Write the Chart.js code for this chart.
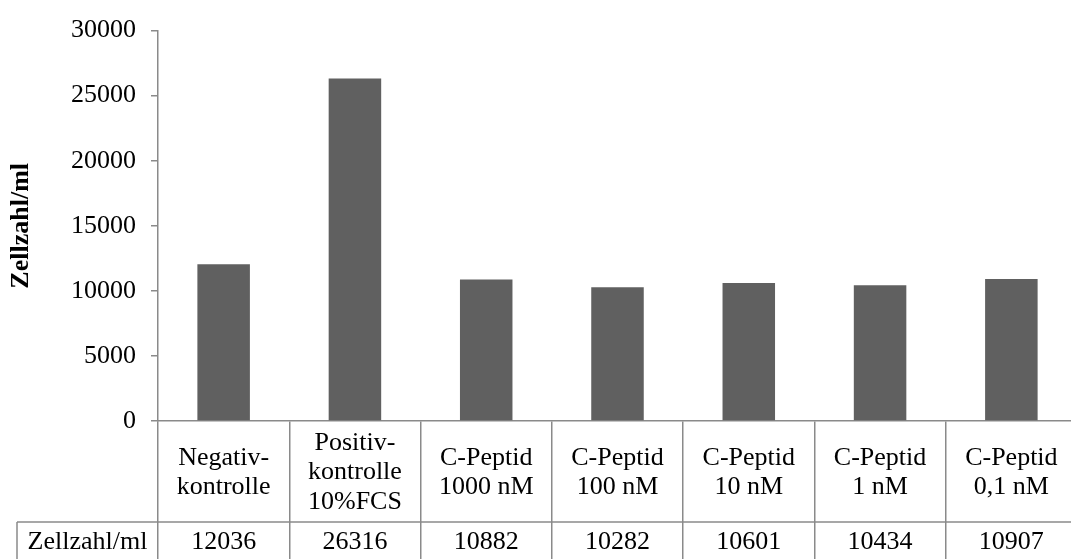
<!DOCTYPE html>
<html>
<head>
<meta charset="utf-8">
<script src="https://cdn.jsdelivr.net/npm/chart.js"></script>
<style>
  html, body { margin: 0; padding: 0; background: #ffffff; overflow: hidden; }
  #wrap { width: 1077px; height: 559px; }
</style>
</head>
<body>
<div id="wrap"><canvas id="chart" width="1077" height="559"></canvas></div>
<script>
// chart data
const categories = [
  ['Negativ-', 'kontrolle'],
  ['Positiv-', 'kontrolle', '10%FCS'],
  ['C-Peptid', '1000 nM'],
  ['C-Peptid', '100 nM'],
  ['C-Peptid', '10 nM'],
  ['C-Peptid', '1 nM'],
  ['C-Peptid', '0,1 nM']
];
const cellCounts = [12036, 26316, 10882, 10282, 10601, 10434, 10907];
const seriesName = 'Zellzahl/ml';
const yTicks = [0, 5000, 10000, 15000, 20000, 25000, 30000];

const lineColor = '#8a8a8a';
const barColor = '#606060';
const serif = "'Liberation Serif', 'Times New Roman', serif";

// draws the value row of the data table under the category labels
const dataTablePlugin = {
  id: 'dataTable',
  afterDraw(chart) {
    const { ctx } = chart;
    const xScale = chart.scales.x;
    const rowTop = 522;
    const tableLeft = 17;
    const textY = 542;

    ctx.save();
    ctx.strokeStyle = lineColor;
    ctx.lineWidth = 1.5;
    ctx.beginPath();
    ctx.moveTo(tableLeft, rowTop);
    ctx.lineTo(chart.width, rowTop);
    ctx.moveTo(tableLeft, rowTop);
    ctx.lineTo(tableLeft, chart.height);
    ctx.stroke();

    ctx.fillStyle = '#000000';
    ctx.font = '26px ' + serif;
    ctx.textAlign = 'center';
    ctx.textBaseline = 'middle';
    ctx.fillText(seriesName, (tableLeft + xScale.left) / 2, textY);
    cellCounts.forEach((v, i) => {
      ctx.fillText(String(v), xScale.getPixelForValue(i), textY);
    });
    ctx.restore();
  }
};

new Chart(document.getElementById('chart'), {
  type: 'bar',
  data: {
    labels: categories,
    datasets: [{
      label: seriesName,
      data: cellCounts,
      backgroundColor: barColor,
      borderWidth: 0,
      categoryPercentage: 1,
      barPercentage: 0.4
    }]
  },
  options: {
    responsive: false,
    devicePixelRatio: 1,
    animation: false,
    layout: { padding: 0 },
    plugins: {
      legend: { display: false },
      tooltip: { enabled: false }
    },
    scales: {
      x: {
        offset: true,
        afterFit: (scale) => { scale.height = 138; },
        grid: {
          offset: true,
          drawOnChartArea: false,
          drawTicks: true,
          tickLength: 140,
          color: lineColor,
          lineWidth: 1.5
        },
        border: { display: true, color: lineColor, width: 1.5 },
        ticks: {
          color: '#000000',
          font: { family: serif, size: 26, lineHeight: 1.13 },
          padding: -118,
          maxRotation: 0,
          autoSkip: false,
          crossAlign: 'center'
        }
      },
      y: {
        min: 0,
        max: 30000,
        afterFit: (scale) => { scale.width = 158; },
        afterBuildTicks: (scale) => { scale.ticks = yTicks.map(v => ({ value: v })); },
        grid: {
          drawOnChartArea: false,
          drawTicks: true,
          tickLength: 7,
          color: lineColor,
          lineWidth: 1.5
        },
        border: { display: true, color: lineColor, width: 1.5 },
        ticks: {
          color: '#000000',
          font: { family: serif, size: 26 },
          padding: 15,
          callback: (v) => String(v)
        },
        title: {
          display: true,
          text: seriesName,
          color: '#000000',
          font: { family: serif, size: 26, weight: 'bold', lineHeight: 1.2 },
          padding: { top: 6, bottom: 0 }
        }
      }
    }
  },
  plugins: [dataTablePlugin]
});
</script>
</body>
</html>
